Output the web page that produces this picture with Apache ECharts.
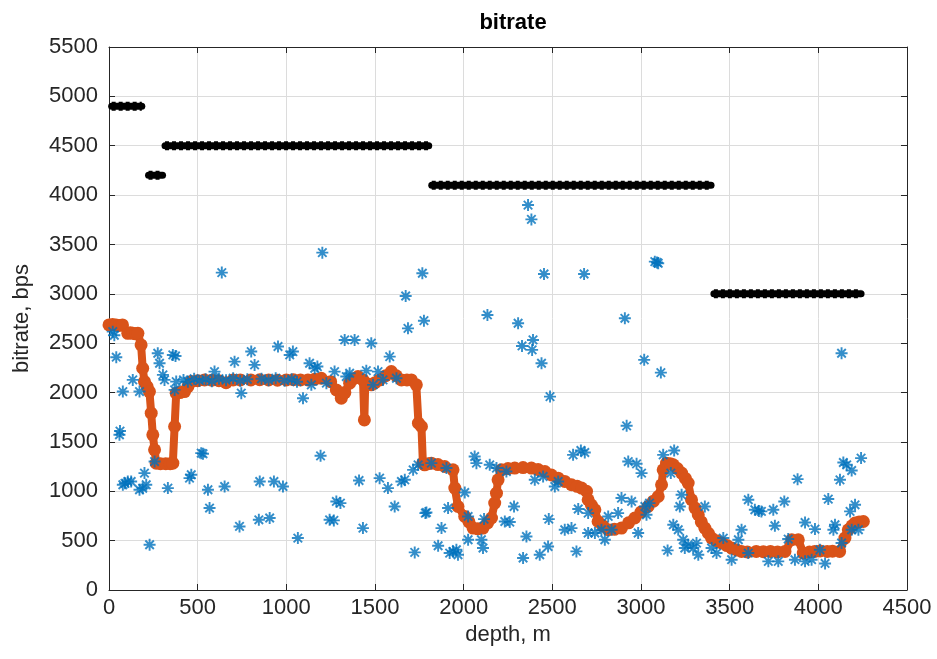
<!DOCTYPE html>
<html>
<head>
<meta charset="utf-8">
<title>bitrate</title>
<script src="https://cdn.jsdelivr.net/npm/echarts@6/dist/echarts.min.js"></script>
<style>
  html, body { margin: 0; padding: 0; background: #ffffff; }
  #chart { width: 937px; height: 659px; }
</style>
</head>
<body>
<div id="chart"></div>
<script>
// Axis ticks
const depthTicks = [0, 500, 1000, 1500, 2000, 2500, 3000, 3500, 4000, 4500];
const rateTicks = [0, 500, 1000, 1500, 2000, 2500, 3000, 3500, 4000, 4500, 5000, 5500];

// Configured modem bitrate: [from depth, to depth, bitrate]
const setSteps = [
  [15, 185, 4900],
  [223, 302, 4200],
  [316, 1803, 4500],
  [1820, 3395, 4100],
  [3411, 4241, 3000]
];

// Measured bitrate per received packet
const measDepth = [
  21, 30, 41, 59, 62, 78, 78, 90, 106, 125, 134, 172, 172, 190, 200, 210, 229, 257, 275, 285,
  304, 313, 332, 360, 370, 379, 375, 420, 445, 454, 464, 480, 510, 520, 530, 545, 558, 567, 580, 595,
  620, 636, 652, 660, 700, 708, 736, 740, 746, 780, 802, 821, 845, 850, 860, 900, 906, 930, 940, 953,
  981, 990, 1019, 1030, 1037, 1060, 1065, 1094, 1131, 1141, 1160, 1175, 1193, 1203, 1226, 1244, 1268, 1272, 1282, 1305,
  1329, 1338, 1357, 1385, 1410, 1432, 1451, 1479, 1489, 1517, 1526, 1545, 1573, 1583, 1611, 1621, 1649, 1668, 1673, 1686,
  1715, 1724, 1743, 1767, 1776, 1784, 1790, 1818, 1856, 1875, 1903, 1912, 1921, 1940, 1959, 1968, 2006, 2025, 2025, 2062,
  2072, 2100, 2109, 2115, 2134, 2147, 2185, 2232, 2241, 2260, 2284, 2307, 2329, 2335, 2354, 2363, 2382, 2386, 2391, 2401,
  2429, 2439, 2448, 2453, 2476, 2480, 2487, 2514, 2533, 2570, 2608, 2617, 2636, 2646, 2661, 2679, 2683, 2702, 2702, 2740,
  2777, 2796, 2815, 2834, 2871, 2890, 2909, 2919, 2928, 2947, 2975, 2984, 3003, 3018, 3022, 3031, 3048, 3078, 3090, 3097,
  3112, 3125, 3150, 3168, 3182, 3187, 3210, 3219, 3229, 3238, 3247, 3266, 3294, 3313, 3323, 3360, 3398, 3426, 3464, 3511,
  3549, 3567, 3605, 3605, 3642, 3665, 3679, 3718, 3746, 3755, 3774, 3808, 3830, 3868, 3883, 3925, 3925, 3962, 3981, 4009,
  4038, 4056, 4085, 4094, 4122, 4131, 4131, 4141, 4160, 4179, 4188, 4188, 4207, 4226, 4241
];
const measRate = [
  2617, 2580, 2358, 1572, 1610, 2010, 1066, 1080, 1099, 1099, 2128, 2010, 1015, 1030, 1184, 1066, 458, 1301, 2398, 2297,
  2179, 2128, 1032, 2381, 2027, 2111, 2370, 2128, 2110, 1133, 1167, 2140, 2120, 1386, 1380, 2135, 1015, 830, 2115, 2212,
  2140, 3215, 1048, 2125, 2145, 2313, 644, 2120, 1994, 2135, 2415, 2280, 711, 1099, 2140, 2125, 729, 1099, 2145, 2466,
  1048, 2120, 2381, 2135, 2415, 2110, 526, 1943, 2297, 2078, 2246, 2263, 1359, 3417, 2095, 711, 705, 2212, 897, 880,
  2533, 2162, 2195, 2533, 1109, 627, 2222, 2500, 2078, 2212, 1133, 2128, 1032, 2364, 846, 2145, 1099, 1116, 2978, 2650,
  1217, 381, 1268, 3208, 2728, 779, 785, 1285, 448, 627, 1235, 830, 374, 390, 408, 357, 988, 509, 745, 1352,
  1285, 509, 425, 718, 2786, 1268, 1235, 694, 1200, 688, 846, 2702, 2472, 324, 542, 3899, 3754, 2432, 2533, 1116,
  357, 2297, 1150, 3201, 441, 718, 1959, 1048, 1099, 610, 627, 1369, 391, 820, 1413, 3201, 1393, 779, 577, 577,
  610, 509, 745, 610, 779, 931, 2752, 1663, 1301, 897, 1278, 577, 1184, 2331, 846, 762, 880, 3326, 3318, 3310,
  2202, 1369, 401, 1184, 661, 1413, 610, 846, 964, 509, 425, 458, 425, 475, 357, 846, 425, 374, 526, 307,
  509, 610, 914, 374, 813, 800, 796, 290, 813, 651, 290, 897, 516, 307, 1123, 684, 290, 307, 617, 408,
  269, 921, 610, 661, 1116, 2398, 476, 1291, 1268, 796, 1210, 610, 863, 610, 1336
];

// Smoothed bitrate estimate
const smoothDepth = [
  0, 20, 40, 58, 76, 106, 120, 135, 150, 163, 181, 190, 200, 215, 228, 238, 247, 257, 266, 290,
  320, 345, 360, 370, 379, 400, 426, 445, 464, 500, 539, 580, 620, 660, 700, 740, 800, 850, 900, 950,
  1000, 1040, 1080, 1122, 1160, 1197, 1250, 1282, 1310, 1330, 1357, 1380, 1404, 1432, 1440, 1445, 1479, 1500, 1526, 1560,
  1592, 1620, 1649, 1680, 1705, 1733, 1745, 1762, 1770, 1780, 1800, 1818, 1855, 1893, 1940, 1950, 1968, 2006, 2030, 2053,
  2080, 2109, 2135, 2157, 2175, 2185, 2194, 2213, 2250, 2288, 2335, 2382, 2420, 2458, 2495, 2533, 2570, 2608, 2640, 2665,
  2693, 2702, 2720, 2740, 2758, 2785, 2815, 2850, 2890, 2930, 2965, 3000, 3040, 3070, 3097, 3116, 3125, 3144, 3165, 3182,
  3205, 3229, 3250, 3266, 3285, 3305, 3323, 3340, 3360, 3380, 3398, 3425, 3455, 3485, 3511, 3540, 3567, 3600, 3650, 3690,
  3730, 3770, 3812, 3850, 3887, 3915, 3950, 3980, 4010, 4050, 4080, 4120, 4150, 4169, 4190, 4207, 4230, 4254
];
const smoothRate = [
  2685, 2690, 2685, 2680, 2685, 2600, 2605, 2600, 2595, 2600, 2482, 2246, 2111, 2060, 2010, 1791, 1572, 1420, 1285, 1280,
  1280, 1280, 1285, 1656, 1994, 2000, 2010, 2060, 2111, 2120, 2128, 2125, 2120, 2100, 2128, 2128, 2128, 2130, 2128, 2125,
  2128, 2130, 2128, 2128, 2135, 2145, 2110, 2027, 1943, 2000, 2095, 2140, 2162, 2128, 1723, 2100, 2078, 2100, 2128, 2170,
  2212, 2170, 2128, 2128, 2128, 2078, 1690, 1656, 1285, 1268, 1280, 1285, 1270, 1251, 1217, 1032, 846, 745, 690, 627,
  620, 627, 680, 729, 880, 981, 1116, 1217, 1230, 1235, 1240, 1235, 1220, 1200, 1165, 1133, 1100, 1066, 1050, 1032,
  1000, 914, 860, 813, 694, 650, 610, 615, 627, 680, 729, 790, 846, 900, 947, 1066, 1217, 1285, 1280, 1268,
  1230, 1184, 1130, 1083, 914, 830, 762, 690, 627, 575, 526, 500, 476, 450, 425, 405, 391, 385, 391, 388,
  391, 386, 391, 509, 509, 374, 385, 390, 395, 391, 393, 391, 526, 610, 650, 678, 690, 694
];

// MATLAB-style asterisk marker
const STAR = 'path://M-1.6,-10L1.6,-10L1.6,10L-1.6,10Z' +
  'M-10,-1.6L10,-1.6L10,1.6L-10,1.6Z' +
  'M5.94,-8.2L8.2,-5.94L-5.94,8.2L-8.2,5.94Z' +
  'M-8.2,-5.94L-5.94,-8.2L8.2,5.94L5.94,8.2Z';

const FONT = 'Liberation Sans, Arial, Helvetica, sans-serif';
const INK = '#262626';

const zip = (xs, ys) => xs.map((x, i) => [x, ys[i]]);
const plain = v => String(v);

const stepSeries = [];
setSteps.forEach(([a, b, v]) => {
  const pts = [[a, v], [b, v]];
  stepSeries.push({
    type: 'line', data: pts, symbol: 'none', silent: true, z: 5,
    lineStyle: { color: '#000', width: 7, cap: 'round' }
  });
  stepSeries.push({
    type: 'line', data: pts, symbol: 'none', silent: true, z: 5,
    lineStyle: { color: '#000', width: 9, type: [4, 3], cap: 'butt' }
  });
});

const chart = echarts.init(document.getElementById('chart'), null, { renderer: 'canvas' });

const baseAxis = {
  type: 'value',
  axisLine: { show: true, onZero: false, lineStyle: { color: INK, width: 1 } },
  axisTick: { show: true, inside: true, length: 6, lineStyle: { color: INK } }
};

chart.setOption({
  animation: false,
  backgroundColor: '#ffffff',
  textStyle: { fontFamily: FONT },
  title: {
    text: 'bitrate', left: 508, top: 7, textAlign: 'center',
    textStyle: { fontFamily: FONT, fontSize: 22, fontWeight: 'bold', color: '#000' }
  },
  grid: { left: 109, right: 30, top: 47, bottom: 69, containLabel: false },
  xAxis: [
    Object.assign({}, baseAxis, {
      position: 'bottom', min: depthTicks[0], max: depthTicks[depthTicks.length - 1],
      interval: depthTicks[1] - depthTicks[0],
      name: 'depth, m', nameLocation: 'middle', nameGap: 31,
      nameTextStyle: { fontFamily: FONT, fontSize: 22, color: INK },
      axisLabel: { fontFamily: FONT, fontSize: 22, color: INK, margin: 7, formatter: plain },
      splitLine: { show: true, lineStyle: { color: '#dcdcdc', width: 1 } }
    }),
    Object.assign({}, baseAxis, {
      position: 'top', min: depthTicks[0], max: depthTicks[depthTicks.length - 1],
      interval: depthTicks[1] - depthTicks[0],
      axisLabel: { show: false }, splitLine: { show: false }
    })
  ],
  yAxis: [
    Object.assign({}, baseAxis, {
      position: 'left', min: rateTicks[0], max: rateTicks[rateTicks.length - 1],
      interval: rateTicks[1] - rateTicks[0],
      name: 'bitrate, bps', nameLocation: 'middle', nameGap: 76, nameRotate: 90,
      nameTextStyle: { fontFamily: FONT, fontSize: 22, color: INK },
      axisLabel: { fontFamily: FONT, fontSize: 22, color: INK, margin: 11, formatter: plain },
      splitLine: { show: true, lineStyle: { color: '#dcdcdc', width: 1 } }
    }),
    Object.assign({}, baseAxis, {
      position: 'right', min: rateTicks[0], max: rateTicks[rateTicks.length - 1],
      interval: rateTicks[1] - rateTicks[0],
      axisLabel: { show: false }, splitLine: { show: false }
    })
  ],
  series: [
    {
      name: 'smoothed', type: 'line', data: zip(smoothDepth, smoothRate),
      symbol: 'circle', symbolSize: 13, showAllSymbol: true, z: 3,
      lineStyle: { color: '#D95319', width: 8, join: 'round' },
      itemStyle: { color: '#D95319' }
    },
    {
      name: 'measured', type: 'scatter', data: zip(measDepth, measRate),
      symbol: STAR, symbolSize: 12, z: 4,
      itemStyle: { color: '#0072BD' }
    }
  ].concat(stepSeries)
});
</script>
</body>
</html>
